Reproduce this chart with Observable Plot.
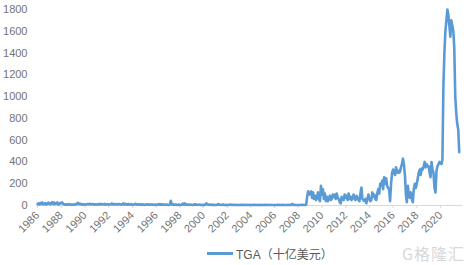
<!DOCTYPE html>
<html>
<head>
<meta charset="utf-8">
<script src="https://cdn.jsdelivr.net/npm/d3@7"></script>
<script src="https://cdn.jsdelivr.net/npm/@observablehq/plot@0.6"></script>
<style>
  html, body { margin: 0; padding: 0; background: #fff; }
  body { width: 476px; height: 265px; overflow: hidden; font-family: "Liberation Sans", "Noto Sans CJK SC", sans-serif; }
  #legend { position: relative; height: 30px; }
  #legend .swatch { position: absolute; left: 207px; top: 17px; width: 26px; height: 3px; background: #5B9BD5; }
  #legend .lbl { position: absolute; left: 236px; top: 10px; font-size: 12px; color: #595959; font-family: "Liberation Sans", "Noto Sans CJK SC", sans-serif; }
  #legend .wm { position: absolute; left: 402px; top: 6px; font-size: 16px; color: #d8d8d8; font-family: "Noto Sans CJK SC", sans-serif; letter-spacing: 1px; }
</style>
</head>
<body>
<div id="chart"></div>
<div id="legend"><div class="swatch"></div><div class="lbl">TGA（十亿美元）</div><div class="wm">G格隆汇</div></div>
<script>
// Monthly TGA balance (billion USD), starting January 1986
const startYear = 1986;
const tgaValues = [
  // 1986
  12, 20, 8, 25, 15, 28, 10, 14, 22, 9, 15, 27,
  // 1987
  18, 10, 25, 30, 12, 26, 14, 20, 28, 8, 12, 24,
  // 1988
  20, 28, 15, 10, 8, 12, 6, 10, 14, 8, 6, 9,
  // 1989
  8, 6, 10, 14, 12, 24, 18, 10, 16, 10, 8, 12,
  // 1990
  10, 8, 12, 14, 10, 16, 12, 10, 14, 9, 8, 12,
  // 1991
  10, 7, 12, 16, 9, 14, 10, 12, 15, 8, 10, 13,
  // 1992
  9, 8, 11, 18, 10, 15, 9, 12, 14, 8, 11, 14,
  // 1993
  10, 8, 12, 20, 9, 16, 10, 8, 15, 7, 10, 13,
  // 1994
  8, 7, 10, 16, 8, 14, 7, 9, 12, 6, 8, 10,
  // 1995
  7, 6, 8, 12, 7, 10, 6, 8, 11, 6, 7, 9,
  // 1996
  7, 6, 8, 14, 7, 12, 6, 8, 11, 5, 7, 9,
  // 1997
  6, 5, 7, 44, 10, 12, 6, 7, 10, 5, 6, 8,
  // 1998
  6, 5, 7, 18, 8, 20, 7, 8, 10, 6, 7, 8,
  // 1999
  6, 5, 6, 12, 7, 9, 6, 7, 8, 5, 6, 7,
  // 2000
  5, 6, 7, 20, 9, 8, 6, 7, 9, 5, 6, 7,
  // 2001
  5, 5, 6, 14, 8, 7, 5, 6, 9, 5, 5, 6,
  // 2002
  5, 5, 6, 8, 6, 7, 5, 6, 7, 5, 5, 6,
  // 2003
  5, 5, 6, 7, 5, 6, 5, 5, 6, 5, 5, 6,
  // 2004
  5, 5, 6, 7, 5, 6, 5, 5, 6, 5, 5, 6,
  // 2005
  5, 5, 6, 7, 5, 6, 5, 5, 6, 5, 5, 5,
  // 2006
  5, 5, 5, 6, 5, 6, 5, 5, 6, 5, 5, 5,
  // 2007
  5, 5, 5, 6, 5, 6, 15, 5, 6, 5, 5, 5,
  // 2008
  5, 5, 5, 6, 5, 6, 5, 5, 7, 80, 130, 100,
  // 2009
  110, 130, 70, 120, 60, 90, 50, 70, 120, 60, 40, 180,
  // 2010
  100, 150, 60, 110, 40, 80, 40, 60, 90, 50, 60, 100,
  // 2011
  80, 100, 60, 110, 70, 60, 30, 20, 80, 60, 50, 100,
  // 2012
  70, 90, 50, 110, 60, 80, 50, 70, 100, 60, 50, 90,
  // 2013
  70, 50, 40, 110, 165, 60, 50, 40, 60, 20, 60, 100,
  // 2014
  60, 40, 50, 120, 80, 100, 60, 50, 110, 150, 110, 200,
  // 2015
  180, 230, 150, 260, 200, 250, 180, 160, 150, 40, 200, 300,
  // 2016
  330, 300, 280, 350, 300, 320, 300, 310, 350, 380, 430, 380,
  // 2017
  280, 100, 30, 180, 100, 70, 120, 60, 30, 150, 200, 160,
  // 2018
  200, 250, 300, 330, 280, 340, 330, 360, 400, 350, 380, 360,
  // 2019
  360, 300, 260, 400, 330, 300, 160, 120, 320, 360, 380, 400,
  // 2020
  390, 380, 420, 1100, 1400, 1600, 1700, 1800, 1750, 1650, 1550, 1700,
  // 2021
  1650, 1600, 1450, 1000, 850, 750, 700, 490
];
const xTickYears = [1986, 1988, 1990, 1992, 1994, 1996, 1998, 2000, 2002, 2004, 2006, 2008, 2010, 2012, 2014, 2016, 2018, 2020];
const yTickValues = [0, 200, 400, 600, 800, 1000, 1200, 1400, 1600, 1800];
const seriesName = "TGA（十亿美元）";

const data = tgaValues.map((v, i) => ({ date: new Date(Date.UTC(startYear, i, 1)), value: v }));
const xTicks = xTickYears.map(y => new Date(Date.UTC(y, 0, 1)));

const chart = Plot.plot({
  width: 476,
  height: 235,
  marginLeft: 37,
  marginRight: 14,
  marginTop: 9,
  marginBottom: 30,
  style: { fontFamily: "'Liberation Sans', 'Noto Sans CJK SC', sans-serif", fontSize: "11px", color: "#737373", background: "white", overflow: "visible" },
  x: { type: "utc", domain: [new Date(Date.UTC(1986, 0, 1)), new Date(Date.UTC(2021, 10, 10))] },
  y: { domain: [0, 1800] },
  marks: [
    Plot.axisY({ ticks: yTickValues, tickSize: 0, tickPadding: 10, label: null, tickFormat: d => String(d) }),
    Plot.ruleY([0], { stroke: "#d9d9d9", strokeWidth: 1 }),
    Plot.axisX({ ticks: xTicks, tickFormat: d => String(d.getUTCFullYear()), tickRotate: -45, tickSize: 3, tickPadding: 5, stroke: "#e0d6cc", label: null }),
    Plot.lineY(data, { x: "date", y: "value", stroke: "#5B9BD5", strokeWidth: 2.6, strokeLinejoin: "round" })
  ]
});
document.getElementById("chart").appendChild(chart);
</script>
</body>
</html>
